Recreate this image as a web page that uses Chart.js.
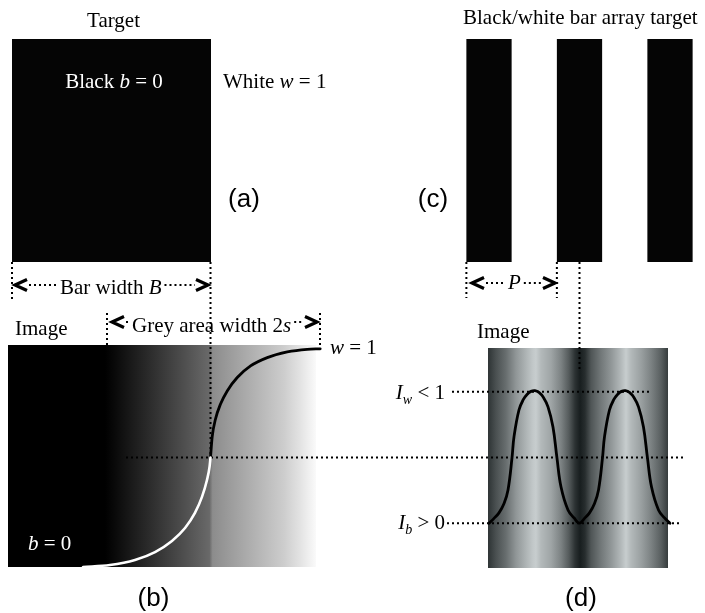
<!DOCTYPE html>
<html>
<head>
<meta charset="utf-8">
<script src="https://cdn.jsdelivr.net/npm/chart.js@4/dist/chart.umd.min.js"></script>
<style>
  html, body { margin: 0; padding: 0; background: #fff; }
  canvas { display: block; }
</style>
</head>
<body>
<canvas id="c" width="705" height="613"></canvas>
<script>
const W = 705, H = 613;

// ---------- data ----------
// (b) edge response across a black/white boundary: position (units of s, edge at 0) and relative intensity
const edgeDarkPos  = [-1.197, -0.944, -0.709, -0.521, -0.362, -0.239, -0.146, -0.080, -0.033, -0.009, 0];
const edgeDarkInt  = [0, 0.009, 0.032, 0.068, 0.119, 0.178, 0.247, 0.320, 0.397, 0.457, 0.5];
const edgeLightPos = [0, 0.016, 0.047, 0.094, 0.157, 0.251, 0.376, 0.533, 0.721, 0.908, 1.03];
const edgeLightInt = [0.5, 0.595, 0.676, 0.744, 0.804, 0.865, 0.918, 0.956, 0.982, 0.994, 0.996];

// grey level of the blurred edge image (b)
const edgeShadePos  = [-1.90, -0.99, -0.91, -0.75, -0.56, -0.28, -0.01, 0.02, 0.38, 0.69, 0.85, 0.99];
const edgeShadeGrey = [0, 0, 8, 25, 45, 75, 105, 140, 175, 205, 228, 250];

// (d) intensity across the image of the bar array: position (units of period P) and relative intensity
const barPos = [0, 0.055, 0.11, 0.166, 0.21, 0.254, 0.276, 0.331, 0.38, 0.42, 0.464, 0.508, 0.552, 0.60, 0.652, 0.707, 0.751, 0.796, 0.873, 0.94,
                1.0, 1.055, 1.11, 1.166, 1.21, 1.254, 1.276, 1.331, 1.38, 1.42, 1.464, 1.508, 1.552, 1.60, 1.652, 1.707, 1.751, 1.796, 1.873, 1.94, 2.0];
const barInt = [0.20, 0.222, 0.247, 0.29, 0.352, 0.498, 0.594, 0.717, 0.765, 0.788, 0.802, 0.805, 0.797, 0.775, 0.731, 0.639, 0.498, 0.365, 0.26, 0.224,
                0.20, 0.222, 0.247, 0.29, 0.352, 0.498, 0.594, 0.717, 0.765, 0.788, 0.802, 0.805, 0.797, 0.775, 0.731, 0.639, 0.498, 0.365, 0.26, 0.224, 0.20];

// grey level of the bar array image (d)
const barShadePos  = [0, 0.077, 0.188, 0.298, 0.409, 0.486, 0.519, 0.575, 0.685, 0.796, 0.884, 0.95, 1.006,
                      1.061, 1.127, 1.238, 1.348, 1.459, 1.514, 1.569, 1.68, 1.79, 1.901, 1.989];
const barShadeGrey = [55, 80, 110, 150, 180, 200, 205, 185, 165, 130, 90, 50, 30,
                      45, 85, 120, 150, 185, 205, 185, 160, 130, 95, 60];

// bar array target (c): bar centres in units of P, bar width as a fraction of P
const targetBarCentres = [0, 1, 2];
const targetBarWidth = 0.5;

// intensity levels
const levelBlack = 0.20;   // I_b
const levelWhite = 0.80;   // I_w
const levelHalf  = 0.5;

// ---------- layout (canvas pixels) ----------
const L = {
  barA:  { left: 12, right: 211, top: 39, bottom: 262 },
  barsC: { top: 39, bottom: 262 },
  imgB:  { left: 8, right: 316, top: 345, bottom: 567 },
  imgD:  { left: 488, right: 668, top: 348, bottom: 568 },
  edgeX: 210.5, sPx: 106.5,        // panel (b) position axis
  troughX: 489, periodPx: 90.5,    // panel (d) position axis
  zeroY: 567, unitPx: 219          // shared intensity axis
};

const xbRange = { min: -L.edgeX / L.sPx, max: (W - L.edgeX) / L.sPx };
const xdRange = { min: -L.troughX / L.periodPx, max: (W - L.troughX) / L.periodPx };
const yiRange = { min: -(H - L.zeroY) / L.unitPx, max: L.zeroY / L.unitPx };

const SERIF = '"Liberation Serif", "Times New Roman", serif';
const SANS = '"Liberation Sans", Arial, sans-serif';

function rich(ctx, parts, x, y, align, color) {
  const fontFor = k => k === 's' ? `italic 14px ${SERIF}` : (k === 'i' ? `italic 21px ${SERIF}` : `21px ${SERIF}`);
  let total = 0;
  const widths = parts.map(([t, k]) => { ctx.font = fontFor(k); const w = ctx.measureText(t).width; total += w; return w; });
  let cx = align === 'center' ? x - total / 2 : (align === 'right' ? x - total : x);
  ctx.fillStyle = color || '#000';
  ctx.textAlign = 'left';
  ctx.textBaseline = 'alphabetic';
  parts.forEach(([t, k], i) => { ctx.font = fontFor(k); ctx.fillText(t, cx, y + (k === 's' ? 5 : 0)); cx += widths[i]; });
  return total;
}

function dots(ctx, x1, y1, x2, y2) {
  ctx.save();
  ctx.strokeStyle = '#000';
  ctx.lineWidth = 2;
  ctx.lineCap = 'butt';
  ctx.setLineDash([2, 3]);
  ctx.beginPath();
  ctx.moveTo(x1, y1);
  ctx.lineTo(x2, y2);
  ctx.stroke();
  ctx.restore();
}

function chevron(ctx, tipX, y, dir) {
  ctx.save();
  ctx.strokeStyle = '#000';
  ctx.lineWidth = 3.2;
  ctx.lineJoin = 'miter';
  ctx.beginPath();
  ctx.moveTo(tipX - dir * 12, y - 5.5);
  ctx.lineTo(tipX, y);
  ctx.lineTo(tipX - dir * 12, y + 5.5);
  ctx.stroke();
  ctx.restore();
}

function dimArrow(ctx, leftTip, rightTip, y, parts, textX, baseline) {
  chevron(ctx, leftTip, y, -1);
  chevron(ctx, rightTip, y, 1);
  const w = rich(ctx, parts, textX, baseline, 'left');
  dots(ctx, leftTip + 14, y, textX - 3, y);
  dots(ctx, textX + w + 3, y, rightTip - 13, y);
}

function greyColour(g, tint) {
  const r = Math.max(0, Math.round(g - (tint ? 6 : 0)));
  return `rgb(${r},${Math.round(g)},${Math.round(g + (tint ? 1 : 0))})`;
}

function shade(ctx, scale, box, pos, grey, tint) {
  const grad = ctx.createLinearGradient(box.left, 0, box.right, 0);
  pos.forEach((p, i) => {
    const t = (scale.getPixelForValue(p) - box.left) / (box.right - box.left);
    grad.addColorStop(Math.min(1, Math.max(0, t)), greyColour(grey[i], tint));
  });
  ctx.fillStyle = grad;
  ctx.fillRect(box.left, box.top, box.right - box.left, box.bottom - box.top);
}

const diagram = {
  id: 'diagram',
  beforeDatasetsDraw(chart) {
    const { ctx, scales } = chart;
    const xb = scales.xb, xd = scales.xd, yi = scales.yi;
    ctx.save();

    // (a) single black bar
    ctx.fillStyle = '#050505';
    ctx.fillRect(L.barA.left, L.barA.top, L.barA.right - L.barA.left, L.barA.bottom - L.barA.top);

    // (c) bar array
    targetBarCentres.forEach(c => {
      const l = xd.getPixelForValue(c - targetBarWidth / 2);
      const r = xd.getPixelForValue(c + targetBarWidth / 2);
      ctx.fillRect(l, L.barsC.top, r - l, L.barsC.bottom - L.barsC.top);
    });

    // (b) and (d) blurred images
    shade(ctx, xb, L.imgB, edgeShadePos, edgeShadeGrey, false);
    shade(ctx, xd, L.imgD, barShadePos, barShadeGrey, true);

    // vertical guides
    const edgePx = xb.getPixelForValue(0);
    dots(ctx, L.barA.left, L.barA.bottom, L.barA.left, 301);
    dots(ctx, edgePx, L.barA.bottom, edgePx, yi.getPixelForValue(levelHalf));
    dots(ctx, 107, 313, 107, 345);
    dots(ctx, 320, 313, 320, 347);
    [0, 1].forEach(c => {
      const x = xd.getPixelForValue(c - targetBarWidth / 2);
      dots(ctx, x, L.barsC.bottom, x, 298);
    });
    const midBar = xd.getPixelForValue(1);
    dots(ctx, midBar, L.barsC.bottom, midBar, 369);

    // intensity levels
    const yHalf = yi.getPixelForValue(levelHalf);
    const yW = yi.getPixelForValue(levelWhite);
    const yB = yi.getPixelForValue(levelBlack);
    dots(ctx, 126, yHalf, 684, yHalf);
    dots(ctx, 452, yW, 651, yW);
    dots(ctx, 447, yB, 681, yB);

    ctx.restore();
  },
  afterDatasetsDraw(chart) {
    const { ctx, scales } = chart;
    const yi = scales.yi;
    ctx.save();

    // titles and labels, panel (a)
    rich(ctx, [['Target', '']], 113.5, 27, 'center');
    rich(ctx, [['Black ', ''], ['b', 'i'], [' = 0', '']], 114, 88, 'center', '#fff');
    rich(ctx, [['White ', ''], ['w', 'i'], [' = 1', '']], 223, 88, 'left');
    dimArrow(ctx, 15, 208, 285, [['Bar width ', ''], ['B', 'i']], 60, 294);

    // panel (c)
    rich(ctx, [['Black/white bar array target', '']], 463, 24, 'left');
    dimArrow(ctx, 472, 555, 283, [['P', 'i']], 508, 289);

    // panel (b)
    rich(ctx, [['Image', '']], 15, 335, 'left');
    dimArrow(ctx, 112, 317, 322, [['Grey area width 2', ''], ['s', 'i']], 132, 332);
    rich(ctx, [['w', 'i'], [' = 1', '']], 330, 354, 'left');
    rich(ctx, [['b', 'i'], [' = 0', '']], 28, 550, 'left', '#fff');

    // panel (d)
    rich(ctx, [['Image', '']], 477, 338, 'left');
    rich(ctx, [['I', 'i'], ['w', 's'], [' < 1', '']], 445, yi.getPixelForValue(levelWhite) + 7, 'right');
    rich(ctx, [['I', 'i'], ['b', 's'], [' > 0', '']], 445, yi.getPixelForValue(levelBlack) + 6, 'right');

    // panel letters
    ctx.fillStyle = '#000';
    ctx.font = `26px ${SANS}`;
    ctx.textAlign = 'center';
    ctx.textBaseline = 'alphabetic';
    ctx.fillText('(a)', 244, 207);
    ctx.fillText('(c)', 433, 207);
    ctx.fillText('(b)', 153.5, 606);
    ctx.fillText('(d)', 581, 606);

    ctx.restore();
  }
};

const toPoints = (xs, ys) => xs.map((x, i) => ({ x, y: ys[i] }));
const edgeCurve = { showLine: true, pointRadius: 0, cubicInterpolationMode: 'monotone', borderCapStyle: 'round', borderJoinStyle: 'round' };
const barCurve = { showLine: true, pointRadius: 0, tension: 0.4, borderCapStyle: 'round', borderJoinStyle: 'round' };

new Chart(document.getElementById('c'), {
  type: 'scatter',
  data: {
    datasets: [
      { label: 'edge, dark side', data: toPoints(edgeDarkPos, edgeDarkInt), xAxisID: 'xb', yAxisID: 'yi',
        borderColor: '#ffffff', borderWidth: 2.6, ...edgeCurve },
      { label: 'edge, light side', data: toPoints(edgeLightPos, edgeLightInt), xAxisID: 'xb', yAxisID: 'yi',
        borderColor: '#000000', borderWidth: 2.8, ...edgeCurve },
      { label: 'bar array image', data: toPoints(barPos, barInt), xAxisID: 'xd', yAxisID: 'yi',
        borderColor: '#000000', borderWidth: 2.8, ...barCurve }
    ]
  },
  options: {
    responsive: false,
    animation: false,
    events: [],
    layout: { padding: 0 },
    plugins: { legend: { display: false }, tooltip: { enabled: false } },
    scales: {
      xb: { type: 'linear', axis: 'x', position: 'bottom', display: false, bounds: 'data', min: xbRange.min, max: xbRange.max },
      xd: { type: 'linear', axis: 'x', position: 'bottom', display: false, bounds: 'data', min: xdRange.min, max: xdRange.max },
      yi: { type: 'linear', axis: 'y', position: 'left', display: false, bounds: 'data', min: yiRange.min, max: yiRange.max }
    }
  },
  plugins: [diagram]
});
</script>
</body>
</html>
